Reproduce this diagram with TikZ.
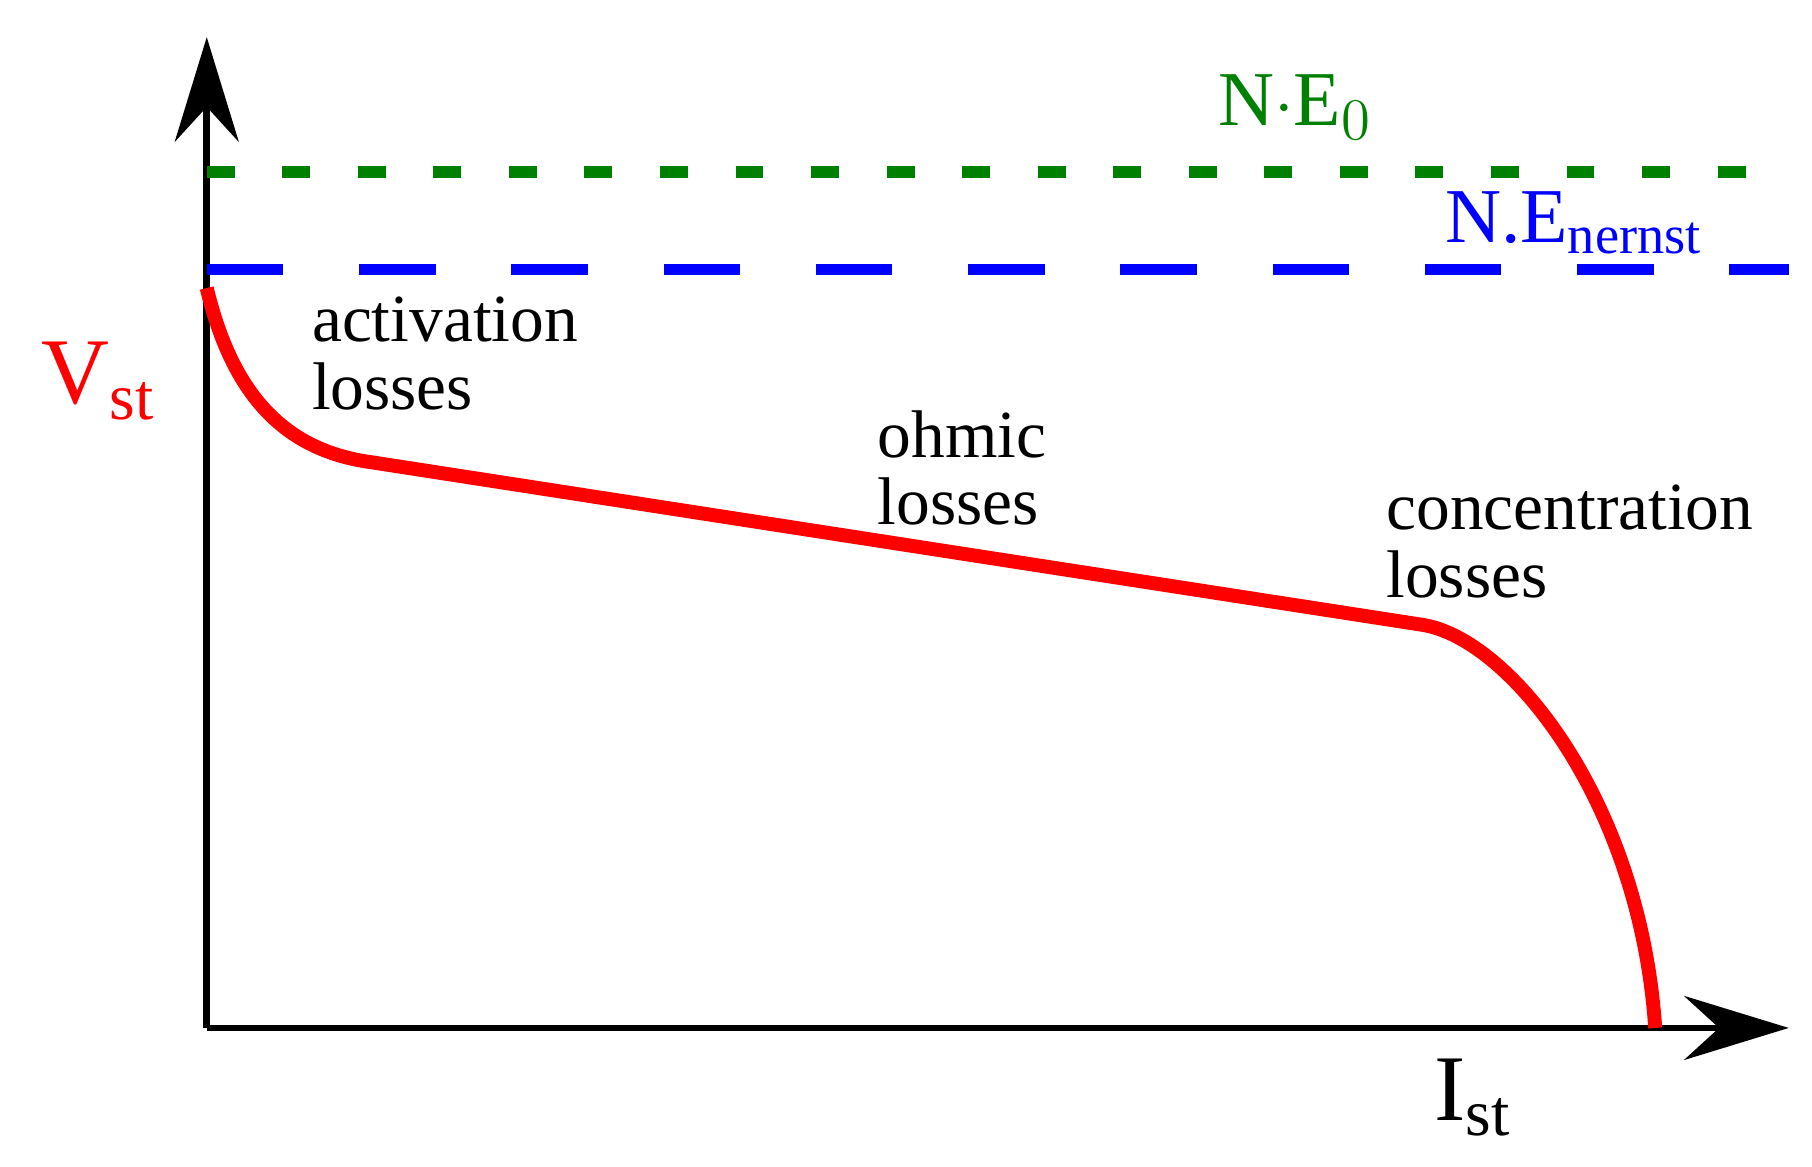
\documentclass[tikz,border=0pt]{standalone}
\usepackage{fontspec}
\setmainfont{Liberation Serif}
\usetikzlibrary{arrows.meta}
\begin{document}
\begin{tikzpicture}[x=0.01cm,y=-0.01cm,
  axis/.style={line width=1.6pt,-{Stealth[length=0.9cm,width=0.55cm,inset=0.3cm]}},
  lbl/.style={anchor=north west,align=left,font=\fontsize{16.5}{16.5}\selectfont,inner sep=0pt}]
\useasboundingbox (0,0) rectangle (1560,1004);
\coordinate (o) at (178,885);
\coordinate (ytip) at (178,32);
\coordinate (xtip) at (1540,885);
\draw[axis] (o) -- (ytip);
\draw[axis] (o) -- (xtip);
\coordinate (g1) at (178,148); \coordinate (g2) at (1515,148);
\draw[green!50!black,line width=0.1cm,dash pattern=on 0.24cm off 0.41cm] (g1) -- (g2);
\coordinate (b1) at (178,232); \coordinate (b2) at (1540,232);
\draw[blue,line width=0.1cm,dash pattern=on 0.66cm off 0.65cm] (b1) -- (b2);
\coordinate (c0) at (178,248); \coordinate (c1) at (320,398);
\coordinate (c2) at (1225,538); \coordinate (c3) at (1425,885);
\draw[red,line width=0.12cm] (c0) .. controls (200,340) and (245,388) .. (c1) -- (c2) .. controls (1300,550) and (1412,690) .. (c3);
\node[green!50!black,font=\fontsize{19}{20}\selectfont] (ne0) at (1115,92) {N$\cdot$E$_0$};
\node[blue,font=\fontsize{19}{20}\selectfont] (nen) at (1355,192) {N.E\textsubscript{nernst}};
\node[red,font=\fontsize{23}{24}\selectfont] (vst) at (85,328) {V\textsubscript{st}};
\node[font=\fontsize{23}{24}\selectfont] (ist) at (1268,945) {I\textsubscript{st}};
\node[lbl] (act) at (268,255) {activation\\losses};
\node[lbl] (ohm) at (755,353) {ohmic\\losses};
\node[lbl] (con) at (1193,417) {concentration\\losses};
\end{tikzpicture}
\end{document}
